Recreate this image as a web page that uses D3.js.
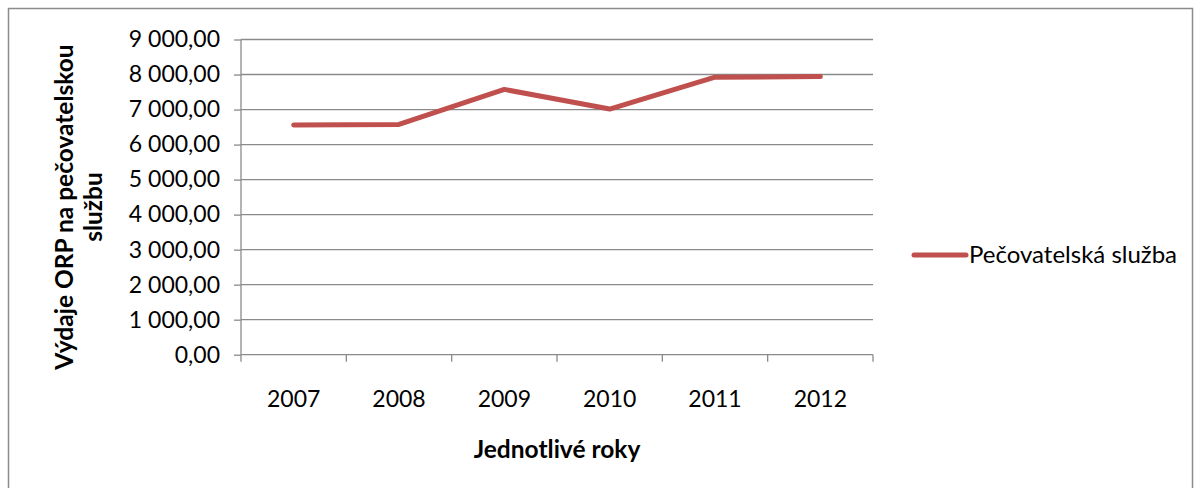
<!DOCTYPE html>
<html><head><meta charset="utf-8">
<script src="https://cdn.jsdelivr.net/npm/d3@7/dist/d3.min.js"></script>
<style>body{margin:0;background:#fff}svg{display:block}text{font-family:Lato,"Open Sans",sans-serif;fill:#000}</style>
</head><body><svg id="c" width="1201" height="488"></svg>
<script>
const years = ["2007","2008","2009","2010","2011","2012"];
const values = [6560, 6575, 7575, 7015, 7925, 7940];
const yTicks = [0,1000,2000,3000,4000,5000,6000,7000,8000,9000];
const seriesName = "Pečovatelská služba";
const yTitle = ["Výdaje ORP na pečovatelskou", "službu"];
const xTitle = "Jednotlivé roky";

const svg = d3.select("#c");
svg.append("rect").attr("x",8.5).attr("y",8.5).attr("width",1184).attr("height",490)
  .attr("fill","#fff").attr("stroke","#8c8c8c").attr("stroke-width",1.5);

const L=241,R=873,T=39.5,B=354.7;
const x = d3.scaleBand().domain(years).range([L,R]);
const y = d3.scaleLinear().domain([0,9000]).range([B,T]);
const fmt = v => d3.format(",.2f")(v).replace(/,/g," ").replace(".",",");

svg.append("g").selectAll("line").data(yTicks.filter(d=>d>0)).join("line")
  .attr("x1",L).attr("x2",R).attr("y1",d=>y(d)).attr("y2",d=>y(d))
  .attr("stroke","#8a8a8a").attr("stroke-width",1.3);

const ya = svg.append("g").attr("transform",`translate(${L},0)`)
  .call(d3.axisLeft(y).tickValues(yTicks).tickFormat(fmt).tickSize(7).tickPadding(14));
ya.selectAll("path,line").attr("stroke","#8a8a8a").attr("stroke-width",1.3);
ya.select(".domain").attr("d",`M0,${T}V${B}`);
ya.selectAll("text").style("font-size","23px").style("font-family","Lato");

const xa = svg.append("g").attr("transform",`translate(0,${B})`)
  .call(d3.axisBottom(x).tickSize(0).tickPadding(36));
xa.select(".domain").attr("stroke","#8a8a8a").attr("stroke-width",1.3).attr("d",`M${L},0H${R}`);
xa.selectAll("text").style("font-size","23px").style("font-family","Lato");
svg.append("g").selectAll("line").data(d3.range(years.length+1)).join("line")
  .attr("x1",i=>L+i*x.step()).attr("x2",i=>L+i*x.step()).attr("y1",B).attr("y2",B+7)
  .attr("stroke","#8a8a8a").attr("stroke-width",1.3);

const line = d3.line().x((d,i)=>x(years[i])+x.bandwidth()/2).y(d=>y(d));
svg.append("path").datum(values).attr("d",line).attr("fill","none")
  .attr("stroke","#C0504D").attr("stroke-width",5).attr("stroke-linecap","round").attr("stroke-linejoin","round");

yTitle.forEach((t,i)=>{
  svg.append("text").attr("transform",`translate(${73+i*29},207) rotate(-90)`)
    .attr("text-anchor","middle").attr("font-weight","bold").style("font-size","24.5px").text(t);
});
svg.append("text").attr("x",(L+R)/2).attr("y",458).attr("text-anchor","middle")
  .attr("font-weight","bold").style("font-size","24.5px").text(xTitle);

svg.append("line").attr("x1",914).attr("x2",966).attr("y1",255).attr("y2",255)
  .attr("stroke","#C0504D").attr("stroke-width",5).attr("stroke-linecap","round");
svg.append("text").attr("x",969).attr("y",263).style("font-size","24px").text(seriesName);
</script></body></html>
